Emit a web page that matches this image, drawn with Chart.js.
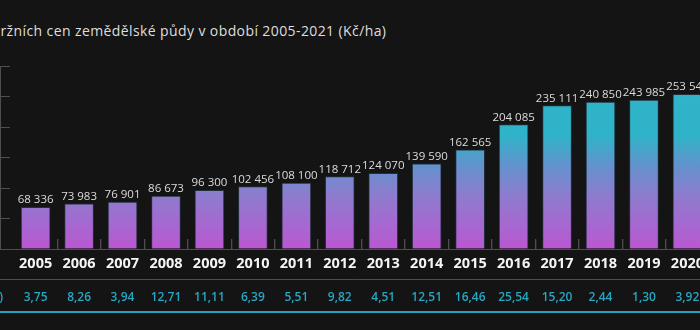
<!DOCTYPE html>
<html lang="cs">
<head>
<meta charset="UTF-8">
<script src="https://cdn.jsdelivr.net/npm/chart.js"></script>
<style>
  html, body { margin: 0; padding: 0; width: 700px; height: 330px; overflow: hidden; background: #141414; }
  #wrap { position: absolute; left: 0; top: 0; width: 720px; height: 330px; }
  #title { position: absolute; top: 21px; left: 0; white-space: nowrap; font: 14px "Open Sans", sans-serif; letter-spacing: 0.4px; color: #dedede; }
  #unit { position: absolute; top: 288px; right: 697px; white-space: nowrap; font: 600 12px "Open Sans", sans-serif; color: #27a7c3; }
  #rule { position: absolute; left: 0; top: 311px; width: 700px; height: 2px; background: #22a3bf; }
</style>
</head>
<body>
<div id="title"><span id="cut">t</span>ržních cen zemědělské půdy v období 2005-2021 (Kč/ha)</div>
<div id="wrap"><canvas id="priceChart"></canvas></div>
<div id="unit">(%)</div>
<div id="rule"></div>
<script>
// average price per hectare and year-on-year change
const years = [2005, 2006, 2007, 2008, 2009, 2010, 2011, 2012, 2013, 2014, 2015, 2016, 2017, 2018, 2019, 2020];
const prices = [68336, 73983, 76901, 86673, 96300, 102456, 108100, 118712, 124070, 139590, 162565, 204085, 235111, 240850, 243985, 253540];
const changes = [3.75, 8.26, 3.94, 12.71, 11.11, 6.39, 5.51, 9.82, 4.51, 12.51, 16.46, 25.54, 15.20, 2.44, 1.30, 3.92];

const family = '"Open Sans", sans-serif';
const axisGray = '#4e4e4e';

// horizontal range of the year axis (a bit of room before 2005)
const xMin = 2004.18;
const xMax = 2020.62;

// slide the title so the first letter sits just off the left edge
const title = document.getElementById('title');
title.style.left = -document.getElementById('cut').offsetWidth + 'px';

function fmtPrice(v) {
    return String(v).replace(/\B(?=(\d{3})+(?!\d))/g, ' ');
}

function fmtPct(v) {
    return v.toFixed(2).replace('.', ',');
}

let gradient = null;
function barFill(ctx) {
    const area = ctx.chart.chartArea;
    if (!area) return '#8c7ece';
    if (!gradient) {
        gradient = ctx.chart.ctx.createLinearGradient(0, area.bottom, 0, area.top);
        gradient.addColorStop(0, '#bb57d2');
        gradient.addColorStop(0.3, '#8c7dce');
        gradient.addColorStop(0.45, '#6591cd');
        gradient.addColorStop(0.62, '#2fb3c8');
        gradient.addColorStop(1, '#2fb4c8');
    }
    return gradient;
}

// numbers written above each bar
const valueLabels = {
    id: 'valueLabels',
    afterDatasetsDraw(chart) {
        const ctx = chart.ctx;
        const meta = chart.getDatasetMeta(0);
        ctx.save();
        ctx.font = '11.5px ' + family;
        ctx.fillStyle = '#dcdcdc';
        ctx.textAlign = 'center';
        ctx.textBaseline = 'alphabetic';
        meta.data.forEach((bar, i) => {
            ctx.fillText(fmtPrice(prices[i]), bar.x, bar.y - 4);
        });
        ctx.restore();
    }
};

const yearTicks = scale => { scale.ticks = years.map(v => ({ value: v })); };

new Chart(document.getElementById('priceChart'), {
    type: 'bar',
    data: {
        datasets: [{
            data: years.map((y, i) => ({ x: y, y: prices[i] })),
            backgroundColor: barFill,
            borderColor: '#23303c',
            borderWidth: 1,
            barThickness: 29
        }]
    },
    options: {
        responsive: true,
        maintainAspectRatio: false,
        animation: false,
        layout: { padding: { top: 66, left: 0, right: 0, bottom: 0 } },
        plugins: {
            legend: { display: false },
            tooltip: { enabled: false }
        },
        scales: {
            x: {
                type: 'linear',
                offset: false,
                min: xMin,
                max: xMax,
                afterBuildTicks: yearTicks,
                afterFit: s => { s.height = 30; },
                grid: {
                    offset: true,
                    drawOnChartArea: false,
                    tickLength: -10,
                    lineWidth: 1.3,
                    color: ctx => ctx.index === 0 ? 'rgba(0,0,0,0)' : axisGray
                },
                border: { color: axisGray, width: 1 },
                ticks: {
                    autoSkip: false,
                    maxRotation: 0,
                    padding: 16,
                    color: '#f4f4f4',
                    font: { family: family, size: 14.5, weight: 'bold' },
                    callback: v => String(v)
                }
            },
            pct: {
                type: 'linear',
                axis: 'x',
                position: 'bottom',
                offset: false,
                min: xMin,
                max: xMax,
                afterBuildTicks: yearTicks,
                afterFit: s => { s.height = 51; },
                grid: { display: false, drawTicks: false },
                border: { color: axisGray, width: 1 },
                ticks: {
                    autoSkip: false,
                    maxRotation: 0,
                    padding: 11,
                    color: '#27a7c3',
                    font: { family: family, size: 12, weight: '600' },
                    callback: (v, i) => fmtPct(changes[i])
                }
            },
            y: {
                min: 0,
                max: 300000,
                afterFit: s => { s.width = 0; },
                ticks: { display: false, stepSize: 50000 },
                grid: { drawOnChartArea: false, tickLength: -10, color: axisGray },
                border: { color: axisGray, width: 1 }
            }
        }
    },
    plugins: [valueLabels]
});
</script>
</body>
</html>
